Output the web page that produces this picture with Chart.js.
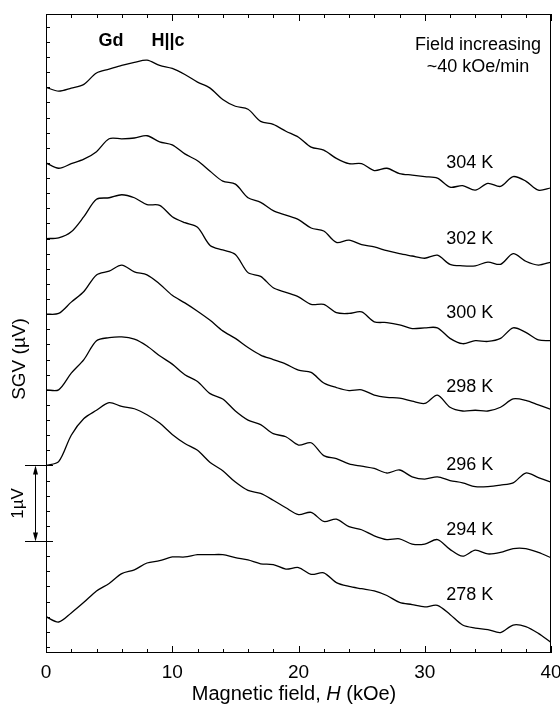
<!DOCTYPE html>
<html>
<head>
<meta charset="utf-8">
<script src="https://cdn.jsdelivr.net/npm/chart.js@4.4.1/dist/chart.umd.min.js"></script>
<style>
    html, body { margin: 0; padding: 0; background: #fff; }
</style>
</head>
<body>
<canvas id="sgvChart" width="560" height="711"></canvas>
<script>
// Magnetic field grid (kOe)
const fieldKOe = [0, 1, 2, 3, 4, 5, 6, 7, 8, 9, 10, 11, 12, 13, 14, 15, 16, 17, 18, 19, 20,
    21, 22, 23, 24, 25, 26, 27, 28, 29, 30, 31, 32, 33, 34, 35, 36, 37, 38, 39, 40];
const xTickLabels = [0, 10, 20, 30, 40];

const temperatures = ['304 K', '302 K', '300 K', '298 K', '296 K', '294 K', '278 K'];

// vertical offset of each trace (uV)
const traceOffsets = [6, 5, 4, 3, 2, 1, -1];

// signal of each trace relative to its value at H = 0 (uV)
const sgv304 = [0, -0.05, -0.01, 0.04, 0.19, 0.24, 0.29, 0.33, 0.36, 0.29, 0.25, 0.17, 0.07, -0.01, -0.16, -0.25, -0.29, -0.45, -0.49, -0.58, -0.66,
    -0.79, -0.83, -0.94, -1.01, -1.01, -1.10, -1.07, -1.14, -1.16, -1.18, -1.20, -1.32, -1.30, -1.36, -1.27, -1.31, -1.18, -1.24, -1.36, -1.33];
const sgv302 = [0, -0.07, -0.01, 0.05, 0.15, 0.32, 0.32, 0.33, 0.36, 0.28, 0.24, 0.12, 0.03, -0.11, -0.24, -0.28, -0.46, -0.52, -0.63, -0.69, -0.75,
    -0.86, -0.90, -1.05, -1.02, -1.08, -1.11, -1.16, -1.20, -1.23, -1.26, -1.22, -1.34, -1.36, -1.36, -1.31, -1.34, -1.20, -1.30, -1.35, -1.31];
const sgv300 = [0, 0.01, 0.09, 0.29, 0.52, 0.54, 0.58, 0.54, 0.45, 0.44, 0.29, 0.21, 0.15, -0.09, -0.15, -0.21, -0.45, -0.50, -0.65, -0.71, -0.77,
    -0.87, -0.87, -0.98, -0.99, -0.97, -1.10, -1.11, -1.14, -1.19, -1.18, -1.18, -1.32, -1.39, -1.35, -1.36, -1.32, -1.18, -1.24, -1.34, -1.35];
const sgv298 = [0, 0.01, 0.16, 0.30, 0.52, 0.57, 0.65, 0.56, 0.52, 0.40, 0.25, 0.15, 0.04, -0.08, -0.22, -0.32, -0.44, -0.54, -0.60, -0.66, -0.74,
    -0.77, -0.91, -0.97, -1.01, -1.00, -1.07, -1.10, -1.11, -1.15, -1.18, -1.07, -1.23, -1.28, -1.27, -1.28, -1.23, -1.12, -1.14, -1.20, -1.26];
const sgv296 = [0, 0, 0.22, 0.40, 0.65, 0.69, 0.70, 0.67, 0.58, 0.45, 0.34, 0.20, 0.11, -0.05, -0.12, -0.28, -0.40, -0.46, -0.58, -0.62, -0.73,
    -0.70, -0.87, -0.91, -0.98, -1.01, -1.04, -1.10, -1.06, -1.15, -1.18, -1.15, -1.20, -1.23, -1.28, -1.28, -1.26, -1.23, -1.10, -1.16, -1.22];
const sgv294 = [0, 0.05, 0.40, 0.62, 0.73, 0.83, 0.78, 0.75, 0.67, 0.56, 0.41, 0.29, 0.20, 0.04, -0.07, -0.22, -0.33, -0.37, -0.46, -0.56, -0.65,
    -0.62, -0.74, -0.71, -0.81, -0.85, -0.93, -0.98, -0.97, -1.04, -1.04, -0.98, -1.11, -1.20, -1.12, -1.17, -1.15, -1.10, -1.10, -1.15, -1.22];
const sgv278 = [0, -0.07, 0.05, 0.19, 0.34, 0.44, 0.57, 0.62, 0.71, 0.74, 0.79, 0.79, 0.82, 0.82, 0.82, 0.78, 0.75, 0.70, 0.69, 0.63, 0.65,
    0.56, 0.58, 0.45, 0.40, 0.37, 0.34, 0.28, 0.19, 0.16, 0.13, 0.15, 0.03, -0.11, -0.15, -0.17, -0.21, -0.11, -0.13, -0.22, -0.34];

const traces = [sgv304, sgv302, sgv300, sgv298, sgv296, sgv294, sgv278];

// where the temperature labels sit (x in kOe, y in uV)
const labelX = 31.7;
const labelY = [5.0, 4.0, 3.02, 2.04, 1.0, 0.15, -0.71];

const FONT = "'Liberation Sans', Arial, Helvetica, sans-serif";

const datasets = traces.map((vals, i) => ({
    label: temperatures[i],
    data: vals.map((v, j) => ({ x: fieldKOe[j], y: v + traceOffsets[i] })),
    borderColor: '#000',
    borderWidth: 1.3,
    pointRadius: 0,
    tension: 0.3,
    fill: false
}));

const decorPlugin = {
    id: 'decor',
    afterDraw(chart) {
        const { ctx, chartArea: a, scales: { x, y } } = chart;
        ctx.save();
        ctx.strokeStyle = '#000';
        ctx.fillStyle = '#000';
        ctx.lineWidth = 1;

        // frame
        ctx.strokeRect(a.left + 0.5, a.top + 0.5, a.right - a.left - 1, a.bottom - a.top - 1);

        // inward ticks on bottom and top axes
        ctx.beginPath();
        for (let v = 0; v <= 40; v += 2) {
            const px = Math.round(x.getPixelForValue(v)) + 0.5;
            const len = v % 10 === 0 ? 7 : 4;
            ctx.moveTo(px, a.bottom);
            ctx.lineTo(px, a.bottom - len);
            ctx.moveTo(px, a.top);
            ctx.lineTo(px, a.top + len);
        }
        // inward ticks on left axis, every 0.2 uV
        for (let k = -7; k <= 34; k++) {
            const py = Math.round(y.getPixelForValue(k * 0.2)) + 0.5;
            ctx.moveTo(a.left, py);
            ctx.lineTo(a.left + 4, py);
        }
        ctx.stroke();

        // x tick labels
        ctx.font = `19px ${FONT}`;
        ctx.textAlign = 'center';
        ctx.textBaseline = 'middle';
        xTickLabels.forEach(v => ctx.fillText(String(v), x.getPixelForValue(v), a.bottom + 20));

        // 1 uV scale bar
        const y0 = Math.round(y.getPixelForValue(0)) + 0.5;
        const y1 = Math.round(y.getPixelForValue(1)) + 0.5;
        const bx = 35.5;
        ctx.beginPath();
        ctx.moveTo(25, y0); ctx.lineTo(a.left + 7, y0);
        ctx.moveTo(25, y1); ctx.lineTo(a.left + 7, y1);
        ctx.moveTo(bx, y0 - 2); ctx.lineTo(bx, y1 + 2);
        ctx.stroke();
        ctx.beginPath();
        ctx.moveTo(bx, y1); ctx.lineTo(bx - 2.5, y1 + 9); ctx.lineTo(bx + 2.5, y1 + 9); ctx.closePath();
        ctx.moveTo(bx, y0); ctx.lineTo(bx - 2.5, y0 - 9); ctx.lineTo(bx + 2.5, y0 - 9); ctx.closePath();
        ctx.fill();

        // rotated texts on the left
        ctx.save();
        ctx.translate(18, (y0 + y1) / 2);
        ctx.rotate(-Math.PI / 2);
        ctx.font = `17px ${FONT}`;
        ctx.textAlign = 'center';
        ctx.textBaseline = 'middle';
        ctx.fillText('1\u00b5V', 0, 0);
        ctx.restore();

        ctx.save();
        ctx.translate(20, 359);
        ctx.rotate(-Math.PI / 2);
        ctx.font = `19px ${FONT}`;
        ctx.textAlign = 'center';
        ctx.textBaseline = 'middle';
        ctx.fillText('SGV (\u00b5V)', 0, 0);
        ctx.restore();

        // temperature labels
        ctx.font = `18px ${FONT}`;
        ctx.textAlign = 'left';
        ctx.textBaseline = 'middle';
        temperatures.forEach((t, i) => {
            ctx.fillText(t, x.getPixelForValue(labelX), y.getPixelForValue(labelY[i]));
        });

        // annotations
        ctx.font = `bold 18px ${FONT}`;
        ctx.textAlign = 'center';
        ctx.fillText('Gd', 111, 41);
        ctx.fillText('H||c', 168, 41);
        ctx.font = `18px ${FONT}`;
        ctx.fillText('Field increasing', 478, 45);
        ctx.fillText('~40 kOe/min', 478, 67);

        // x axis title with italic H
        const p1 = 'Magnetic field, ', p2 = 'H', p3 = ' (kOe)';
        ctx.font = `20px ${FONT}`;
        const w1 = ctx.measureText(p1).width, w3 = ctx.measureText(p3).width;
        ctx.font = `italic 20px ${FONT}`;
        const w2 = ctx.measureText(p2).width;
        const tx = 294 - (w1 + w2 + w3) / 2;
        ctx.textAlign = 'left';
        ctx.textBaseline = 'alphabetic';
        ctx.font = `20px ${FONT}`;
        ctx.fillText(p1, tx, 700);
        ctx.font = `italic 20px ${FONT}`;
        ctx.fillText(p2, tx + w1, 700);
        ctx.font = `20px ${FONT}`;
        ctx.fillText(p3, tx + w1 + w2, 700);

        ctx.restore();
    }
};

new Chart(document.getElementById('sgvChart'), {
    type: 'line',
    data: { datasets },
    options: {
        responsive: false,
        animation: false,
        layout: { padding: { top: 14, right: 9, left: 0, bottom: 0 } },
        scales: {
            x: {
                type: 'linear',
                min: 0,
                max: 40,
                grid: { display: false, drawTicks: false },
                border: { display: false },
                ticks: { display: false },
                afterFit: (scale) => { scale.height = 58; }
            },
            y: {
                type: 'linear',
                min: -1.48,
                max: 6.97,
                grid: { display: false, drawTicks: false },
                border: { display: false },
                ticks: { display: false },
                afterFit: (scale) => { scale.width = 46; }
            }
        },
        plugins: {
            legend: { display: false },
            tooltip: { enabled: false }
        }
    },
    plugins: [decorPlugin]
});
</script>
</body>
</html>
